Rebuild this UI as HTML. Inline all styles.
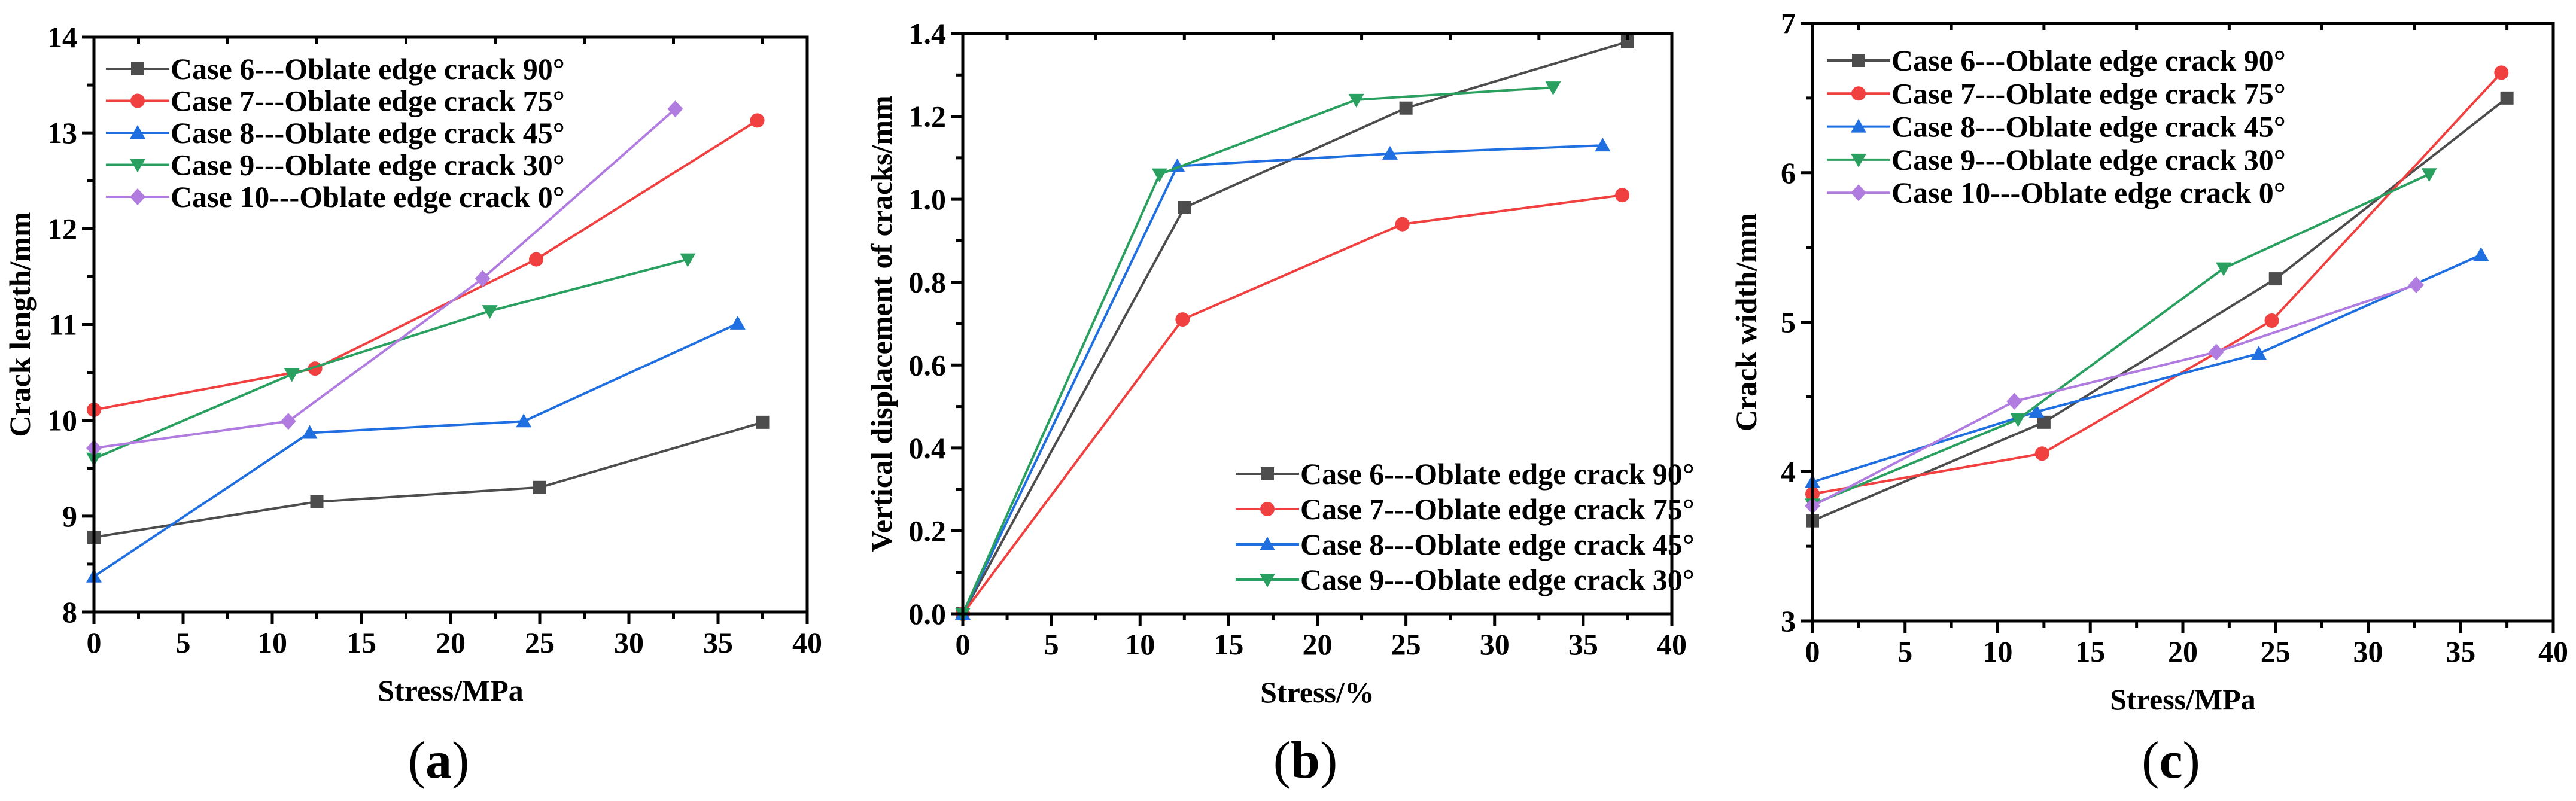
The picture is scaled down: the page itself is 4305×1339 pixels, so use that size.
<!DOCTYPE html>
<html><head><meta charset="utf-8"><style>
html,body{margin:0;padding:0;background:#fff}
svg{display:block;font-family:"Liberation Serif",serif;font-weight:bold}
</style></head><body>
<svg id="fig" width="4305" height="1339" viewBox="0 0 4305 1339" xmlns="http://www.w3.org/2000/svg"></svg>
<script>
const seriesNames = ["Case 6---Oblate edge crack 90°","Case 7---Oblate edge crack 75°","Case 8---Oblate edge crack 45°","Case 9---Oblate edge crack 30°","Case 10---Oblate edge crack 0°"];
const seriesColors = ["#4d4d4d","#f04040","#1f6fe0","#2aa060","#b07ce0"];
const seriesMarkers = ["square","circle","up","down","diamond"];
const xTicks = [0,5,10,15,20,25,30,35,40];

const aX = [[0,12.5,25,37.5],[0,12.4,24.8,37.2],[0,12.1,24.1,36.1],[0,11.1,22.2,33.3],[0,10.9,21.8,32.6]];
const aY = [[8.78,9.15,9.3,9.98],[10.11,10.54,11.68,13.13],[8.37,9.87,9.99,11.01],[9.6,10.48,11.14,11.68],[9.71,9.99,11.48,13.25]];
const aYTicks = [8,9,10,11,12,13,14];

const bX = [[0,12.5,25,37.5],[0,12.4,24.8,37.2],[0,12.1,24.1,36.1],[0,11.1,22.2,33.3]];
const bY = [[0,0.98,1.22,1.38],[0,0.71,0.94,1.01],[0,1.08,1.11,1.13],[0,1.06,1.24,1.27]];
const bYTicks = [0,0.2,0.4,0.6,0.8,1.0,1.2,1.4];

const cX = [[0,12.5,25,37.5],[0,12.4,24.8,37.2],[0,12.1,24.1,36.1],[0,11.1,22.2,33.3],[0,10.9,21.8,32.6]];
const cY = [[3.67,4.33,5.29,6.5],[3.85,4.12,5.01,6.67],[3.93,4.4,4.79,5.45],[3.78,4.35,5.36,5.99],[3.77,4.47,4.8,5.25]];
const cYTicks = [3,4,5,6,7];

const NS="http://www.w3.org/2000/svg";
const svg=document.getElementById('fig');
function el(tag,attrs,parent){const e=document.createElementNS(NS,tag);for(const k in attrs)e.setAttribute(k,attrs[k]);(parent||svg).appendChild(e);return e;}

function marker(g,type,x,y,color){
  let m;
  if(type==="square") m=el('rect',{x:x-11,y:y-11,width:22,height:22,fill:color},g);
  else if(type==="circle") m=el('circle',{cx:x,cy:y,r:12,fill:color},g);
  else if(type==="up") m=el('polygon',{points:`${x},${y-13} ${x+13},${y+10} ${x-13},${y+10}`,fill:color},g);
  else if(type==="down") m=el('polygon',{points:`${x},${y+13} ${x+13},${y-10} ${x-13},${y-10}`,fill:color},g);
  else m=el('polygon',{points:`${x},${y-14} ${x+13},${y} ${x},${y+14} ${x-13},${y}`,fill:color},g);
  
  
}

function chart(id,box,xs,ys,yTicks,yDec,yMinor,yTitle,xTitle,legend,label){
  const g=el('g',{});
  
  
  const {x0,x1,y0,y1}=box;
  const ymin=yTicks[0], ymax=yTicks[yTicks.length-1];
  const sx=v=>x0+(v-0)/(40-0)*(x1-x0);
  const sy=v=>y0-(v-ymin)/(ymax-ymin)*(y0-y1);
  for(let s=0;s<xs.length;s++){
    const sg=el('g',{},g);
    
    
    const pts=xs[s].map((v,i)=>sx(v)+','+sy(ys[s][i])).join(' ');
    el('polyline',{points:pts,fill:'none',stroke:seriesColors[s],'stroke-width':4},sg);
    xs[s].forEach((v,i)=>marker(sg,seriesMarkers[s],sx(v),sy(ys[s][i]),seriesColors[s]));
  }
  const fr=el('rect',{x:x0,y:y1,width:x1-x0,height:y0-y1,fill:'none',stroke:'#000','stroke-width':5},g);
  
  
  xTicks.forEach((t,i)=>{
    const x=sx(t);
    el('line',{x1:x,y1:y0,x2:x,y2:y0+20,stroke:'#000','stroke-width':5},g);
    const tx=el('text',{x:x,y:y0+68,'font-size':50,'text-anchor':'middle'},g);
    tx.textContent=t;
    
    
    if(i<xTicks.length-1){
      const m=sx(t+2.5);
      el('line',{x1:m,y1:y0,x2:m,y2:y0+11,stroke:'#000','stroke-width':5},g);
      el('line',{x1:m,y1:y1,x2:m,y2:y1+11,stroke:'#000','stroke-width':5},g);
    }
  });
  yTicks.forEach((t,i)=>{
    const y=sy(t);
    el('line',{x1:x0-20,y1:y,x2:x0,y2:y,stroke:'#000','stroke-width':5},g);
    const ty=el('text',{x:x0-28,y:y+17,'font-size':50,'text-anchor':'end'},g);
    ty.textContent=t.toFixed(yDec);
    
    
    if(i<yTicks.length-1){
      const m=sy(t+yMinor);
      el('line',{x1:x0-11,y1:m,x2:x0,y2:m,stroke:'#000','stroke-width':5},g);
    }
  });
  const xt=el('text',{x:(x0+x1)/2,y:y0+148,'font-size':50,'text-anchor':'middle'},g);
  xt.textContent=xTitle;
  
  
  const yc=(y0+y1)/2;
  const yt=el('text',{x:0,y:0,'font-size':50,'text-anchor':'middle',transform:`translate(${legend.ytx},${yc}) rotate(-90)`},g);
  yt.textContent=yTitle;
  
  
  const lg=el('g',{},g);
  
  
  for(let s=0;s<xs.length;s++){
    const y=legend.y+s*legend.dy;
    const eg=el('g',{},lg);
    
    
    el('line',{x1:legend.x,y1:y,x2:legend.x+106,y2:y,stroke:seriesColors[s],'stroke-width':4},eg);
    marker(eg,seriesMarkers[s],legend.x+53,y,seriesColors[s]);
    const t=el('text',{x:legend.x+108,y:y+17,'font-size':50},eg);
    t.textContent=seriesNames[s];
  }
  const lb=el('text',{x:(x0+x1)/2-20,y:1300,'font-size':88,'font-weight':'normal','text-anchor':'middle'},g);
  lb.innerHTML='(<tspan font-weight="bold">'+label+'</tspan>)';
  
  
}

chart('chart-a',{x0:157,x1:1349,y0:1023,y1:62},aX,aY,aYTicks,0,0.5,'Crack length/mm','Stress/MPa',{x:177,y:115,dy:53.5,ytx:50},'a');
chart('chart-b',{x0:1609,x1:2794,y0:1026,y1:56},bX,bY,bYTicks,1,0.1,'Vertical displacement of cracks/mm','Stress/%',{x:2065,y:792,dy:59,ytx:1490},'b');
chart('chart-c',{x0:3029,x1:4267,y0:1038,y1:39},cX,cY,cYTicks,0,0.5,'Crack width/mm','Stress/MPa',{x:3053,y:101,dy:55.3,ytx:2935},'c');
</script>
</body></html>
